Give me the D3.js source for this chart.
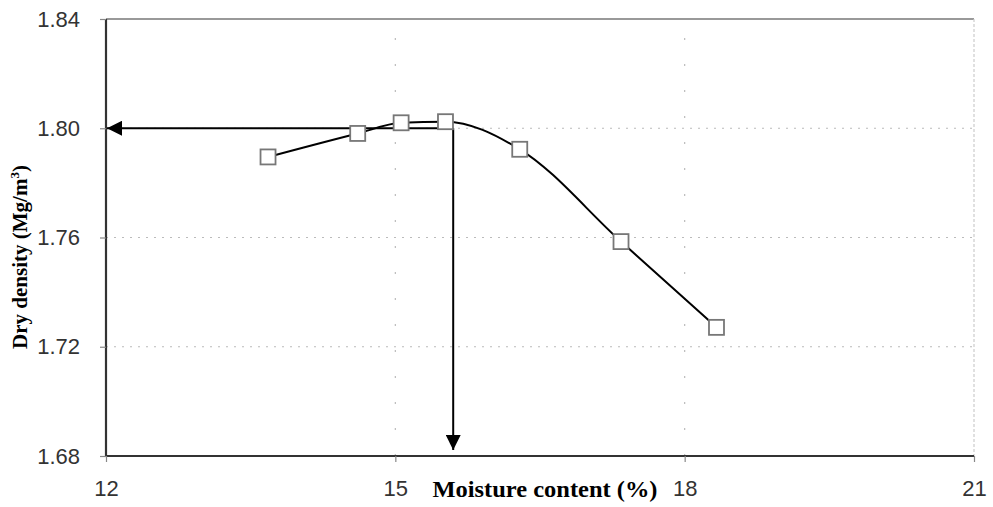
<!DOCTYPE html>
<html>
<head>
<meta charset="utf-8">
<script src="https://cdn.jsdelivr.net/npm/d3@7"></script>
<style>
  html, body { margin: 0; padding: 0; background: #fff; }
  svg { display: block; }
</style>
</head>
<body>
<svg id="chart" width="993" height="507"></svg>
<script>
// Compaction test results: moisture content (%) vs dry density (Mg/m3)
const moisture = [13.68, 14.61, 15.06, 15.52, 16.29, 17.34, 18.33];
const dryDensity = [1.7895, 1.7981, 1.8020, 1.8024, 1.7923, 1.7585, 1.7271];
const xTicks = [12, 15, 18, 21];
const yTicks = [1.68, 1.72, 1.76, 1.80, 1.84];
// Optimum moisture content and maximum dry density
const optimum = { moisture: 15.6, density: 1.80 };

const svg = d3.select("#chart");
const margin = { left: 106, right: 19, top: 19, bottom: 51 };
const W = 993, H = 507;

const x = d3.scaleLinear().domain([12, 21]).range([margin.left, W - margin.right]);
const y = d3.scaleLinear().domain([1.68, 1.84]).range([H - margin.bottom, margin.top]);

const tickFont = "'Liberation Sans', Arial, sans-serif";
const titleFont = "'Liberation Serif', 'Times New Roman', serif";

// Gridlines
svg.append("g").selectAll("line")
  .data(yTicks.filter(d => d > 1.68 && d < 1.84))
  .join("line")
  .attr("x1", x(12)).attr("x2", x(21))
  .attr("y1", d => y(d)).attr("y2", d => y(d))
  .attr("stroke", "#bbb").attr("stroke-width", 1.2)
  .attr("stroke-dasharray", "2,6");

svg.append("g").selectAll("line")
  .data(xTicks.filter(d => d > 12 && d < 21))
  .join("line")
  .attr("x1", d => x(d)).attr("x2", d => x(d))
  .attr("y1", y(1.68)).attr("y2", y(1.84))
  .attr("stroke", "#bbb").attr("stroke-width", 1.2)
  .attr("stroke-dasharray", "2,24");

// Frame: top and right borders
svg.append("line")
  .attr("x1", x(12)).attr("x2", x(21)).attr("y1", y(1.84)).attr("y2", y(1.84))
  .attr("stroke", "#999").attr("stroke-width", 2);
svg.append("line")
  .attr("x1", x(21)).attr("x2", x(21)).attr("y1", y(1.84)).attr("y2", y(1.68))
  .attr("stroke", "#ccc").attr("stroke-width", 1.2).attr("stroke-dasharray", "3,2");

// Axes
const xAxis = d3.axisBottom(x).tickValues(xTicks).tickSize(6).tickPadding(18)
  .tickFormat(d3.format("d"));
const yAxis = d3.axisLeft(y).tickValues(yTicks).tickSize(6).tickPadding(20)
  .tickFormat(d3.format(".2f"));

const gx = svg.append("g").attr("transform", `translate(0,${y(1.68)})`).call(xAxis);
const gy = svg.append("g").attr("transform", `translate(${x(12)},0)`).call(yAxis);

gx.select(".domain").attr("d", `M${x(12)},0H${x(21)}`)
  .attr("stroke", "#333").attr("stroke-width", 2);
gy.select(".domain").attr("d", `M0,${y(1.68)}V${y(1.84)}`)
  .attr("stroke", "#333").attr("stroke-width", 2.2);
[gx, gy].forEach(g => {
  g.selectAll(".tick line").attr("stroke", "#888").attr("stroke-width", 1.2);
  g.selectAll(".tick text")
    .attr("font-family", tickFont).attr("font-size", 22)
    .attr("fill", "#333");
});

// Arrowhead definition
const defs = svg.append("defs");
defs.append("marker")
  .attr("id", "arrow")
  .attr("viewBox", "0 0 10 10")
  .attr("refX", 10).attr("refY", 5)
  .attr("markerWidth", 15).attr("markerHeight", 15)
  .attr("markerUnits", "userSpaceOnUse")
  .attr("orient", "auto")
  .append("path")
  .attr("d", "M0,0L10,5L0,10Z")
  .attr("fill", "#000");

// Optimum indicators
svg.append("line")
  .attr("x1", x(optimum.moisture)).attr("x2", x(12) + 1)
  .attr("y1", y(optimum.density)).attr("y2", y(optimum.density))
  .attr("stroke", "#000").attr("stroke-width", 2)
  .attr("marker-end", "url(#arrow)");
svg.append("line")
  .attr("x1", x(optimum.moisture)).attr("x2", x(optimum.moisture))
  .attr("y1", y(optimum.density)).attr("y2", y(1.68) - 6)
  .attr("stroke", "#000").attr("stroke-width", 2)
  .attr("marker-end", "url(#arrow)");

// Compaction curve
const pts = moisture.map((m, i) => [m, dryDensity[i]]);
const line = d3.line()
  .x(d => x(d[0])).y(d => y(d[1]))
  .curve(d3.curveMonotoneX);
svg.append("path")
  .datum(pts)
  .attr("d", line)
  .attr("fill", "none")
  .attr("stroke", "#000")
  .attr("stroke-width", 2);

// Markers
const s = 15;
svg.append("g").selectAll("rect")
  .data(pts)
  .join("rect")
  .attr("x", d => x(d[0]) - s / 2)
  .attr("y", d => y(d[1]) - s / 2)
  .attr("width", s).attr("height", s)
  .attr("fill", "#fff")
  .attr("stroke", "#777")
  .attr("stroke-width", 1.8);

// Axis titles
svg.append("text")
  .attr("x", 545).attr("y", 497)
  .attr("text-anchor", "middle")
  .attr("font-family", titleFont).attr("font-weight", "bold")
  .attr("font-size", 24).attr("fill", "#000")
  .attr("textLength", 225).attr("lengthAdjust", "spacingAndGlyphs")
  .text("Moisture content (%)");

const yt = svg.append("text")
  .attr("transform", "translate(27,257) rotate(-90)")
  .attr("text-anchor", "middle")
  .attr("font-family", titleFont).attr("font-weight", "bold")
  .attr("font-size", 21).attr("fill", "#000");
yt.append("tspan").text("Dry density (Mg/m");
yt.append("tspan").attr("font-size", 13).attr("dy", -8).text("3");
yt.append("tspan").attr("dy", 8).text(")");
</script>
</body>
</html>
